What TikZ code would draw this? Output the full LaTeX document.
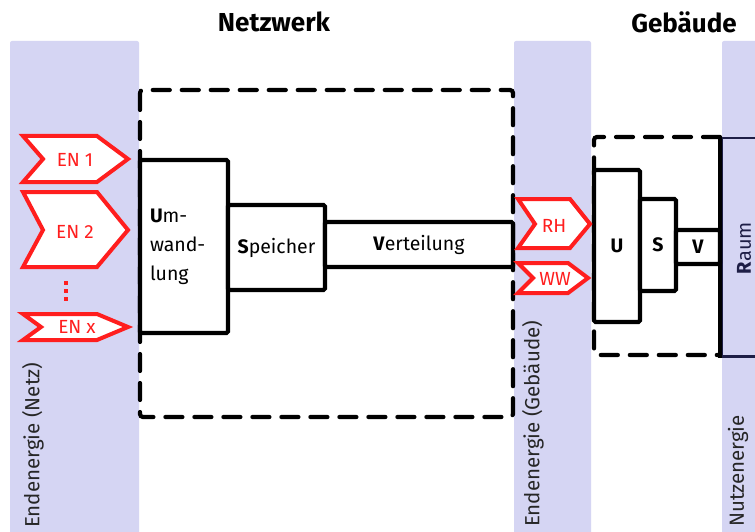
\documentclass[tikz,border=0pt]{standalone}
\usepackage{fontspec}
\setmainfont{Fira Sans}
\definecolor{band}{HTML}{D5D5F3}
\definecolor{enred}{HTML}{FF1E1E}
\definecolor{navy}{HTML}{1E1E46}
\tikzset{
  bandbox/.style={fill=band, draw=none, rounded corners=2pt},
  netbox/.style={draw=black, line width=4.2pt, dash pattern=on 17pt off 12pt, line cap=round, rounded corners=3pt},
  blockbox/.style={draw=black, fill=white, line width=4.2pt, rounded corners=1.5pt, inner sep=0pt, font=\fontsize{19.5}{29}\selectfont},
  blockletter/.style={blockbox, font=\fontsize{19.5}{20}\selectfont\bfseries},
  chev/.style={draw=enred, fill=white, line width=4pt, line join=miter},
  chevtext/.style={text=enred, inner sep=0pt, font=\fontsize{19}{20}\selectfont},
  vlabel/.style={rotate=90, anchor=west, inner sep=0pt, font=\fontsize{20.5}{21}\selectfont, text=black!85},
  title/.style={font=\fontsize{26}{28}\selectfont\bfseries, inner sep=0pt}
}
\begin{document}
\begin{tikzpicture}[x=1pt, y=-1pt]
\clip (0,0) rectangle (755,532);
\fill[white] (0,0) rectangle (755,532);
% bands
\path[bandbox] (10,41) rectangle (139,545);
\path[bandbox] (514,41) rectangle (591,545);
\path[bandbox] (722,41) rectangle (790,545);
% titles
\node[title] (tnetz) at (274,22) {Netzwerk};
\node[title] (tgeb) at (684,22) {Gebäude};
% network dashed box
\draw[netbox] (140,90) rectangle (513,417);
% building dashed box
\draw[netbox] (720,137) -- (594,137) -- (594,355) -- (720,355);
% Raum box
\node[draw=navy, line width=2.5pt, minimum width=80pt, minimum height=218pt, inner sep=0pt, anchor=north west] (raumbox) at (720,137) {};
\draw[black, line width=4.2pt] (raumbox.north west) -- (raumbox.south west);
\node[rotate=90, inner sep=0pt, font=\fontsize{20}{21}\selectfont, text=navy] (raum) at (744,248) {\textbf{R}aum};
% network blocks
\node[blockbox, minimum width=88pt, minimum height=173pt, text width=68pt, align=left] (umw) at (184,246.5) {\textbf{U}m-\\wand-\\lung};
\node[blockbox, minimum width=97pt, minimum height=85pt] (spei) at (276.5,247.5) {\textbf{S}peicher};
\node[blockbox, minimum width=188pt, minimum height=45pt] (vert) at (419,244.5) {\textbf{V}erteilung};
% building blocks
\node[blockletter, minimum width=46pt, minimum height=152pt] (bu) at (617,246) {U};
\node[blockletter, minimum width=36pt, minimum height=92pt] (bs) at (658,245) {S};
\node[blockletter, minimum width=44pt, minimum height=34pt] (bv) at (698,247) {V};
% energy carriers (network)
\draw[chev] (23,136) -- (97,136) -- (128,159) -- (97,182) -- (23,182) -- (43,159) -- cycle;
\node[chevtext] (en1) at (75,160) {EN 1};
\draw[chev] (23,192) -- (97,192) -- (128,230) -- (97,267) -- (23,267) -- (43,230) -- cycle;
\node[chevtext] (en2) at (75,232) {EN 2};
\draw[chev] (23,314) -- (97,314) -- (128,327) -- (97,340) -- (23,340) -- (41,327) -- cycle;
\node[chevtext] (enx) at (77,327) {EN x};
\fill[enred] (63.5,281) rectangle (67.5,285);
\fill[enred] (63.5,289) rectangle (67.5,293);
\fill[enred] (63.5,296.5) rectangle (67.5,300.5);
% energy carriers (building)
\draw[chev] (518,199) -- (570,199) -- (590,224) -- (570,248) -- (518,248) -- (535,224) -- cycle;
\node[chevtext] (rh) at (554,226) {RH};
\draw[chev] (518,263) -- (568,263) -- (588,278) -- (568,293) -- (518,293) -- (533,278) -- cycle;
\node[chevtext] (ww) at (555,279) {WW};
% vertical labels
\node[vlabel] (lnetz) at (33,528) {Endenergie (Netz)};
\node[vlabel] (lgeb) at (533,527) {Endenergie (Gebäude)};
\node[vlabel] (lnutz) at (738,527) {Nutzenergie};
\end{tikzpicture}
\end{document}
